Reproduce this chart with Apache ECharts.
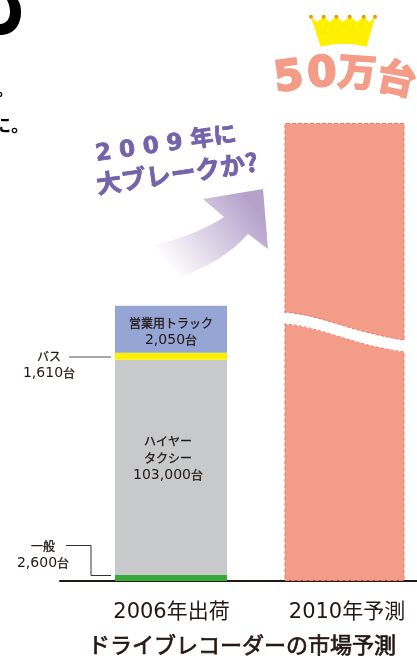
<!DOCTYPE html>
<html lang="ja">

<head>
    <meta charset="UTF-8">
    <title>ドライブレコーダーの市場予測</title>
    <style>
        html, body { margin: 0; padding: 0; background: #fff; }
    </style>
</head>

<body>
    <div id="main" style="width: 417px; height: 656px;"></div>

    <script src="https://cdn.jsdelivr.net/npm/echarts@6/dist/echarts.min.js"></script>
    <script>
        var chartTitle = 'ドライブレコーダーの市場予測';
        var categories = ['2006年出荷', '2010年予測'];

        // 2006 segments, bottom to top
        var segmentNames = ['一般', 'ハイヤー\nタクシー', 'バス', '営業用トラック'];
        var segmentUnits = [2600, 103000, 1610, 2050];
        // the source picture is not to scale: heights as drawn, read against the 500,000 bar
        var segmentDrawn = [6500, 235000, 7600, 51300];
        var segmentColors = ['#36a938', '#c8c9ca', '#fff000', '#95a6d4'];

        var forecastUnits = [500000];
        var forecastLabel = ['5', '0', '万', '台'];

        var CJK = '"Noto Sans CJK JP", sans-serif';
        var NUM = '"DejaVu Sans", "Noto Sans CJK JP", sans-serif';

        function deg(d) { return d * Math.PI / 180; }

        // graphic component has no plain path type, so register the svg paths as shapes
        function pathShape(name, d) {
            echarts.graphic.registerShape(name, echarts.graphic.extendPath(d, {}));
        }
        pathShape('cutRing', 'M0 35C14 35 21 25 21 12C21 7 20 3 18 0L7 0C9 4 10 8 10 12C10 19 6 24 0 24Z');
        pathShape('breakBand', 'M280 312C320 314 350 332 409 341L409 353C350 345 320 326 280 324Z');
        pathShape('breakTop', 'M284 312C320 314 350 332 405 340');
        pathShape('breakBottom', 'M284 324C320 326 350 345 405 352');
        pathShape('trendArrow', 'M153 245C180 239 204 230 224 217L203 199L263 189L268 249L248 234C230 254 206 268 180 277Z');
        pathShape('crown', 'M311 17L317 22L323.7 16.5L330 22L336.3 16.5L343 22L349.7 16.5L357 22L363.7 16.5L369 22L375 17L366.7 46.7Q343 41 320.7 46.7Z');

        function segmentLabel(i) {
            return segmentNames[i].split('\n').map(function (t) { return '{t|' + t + '}'; }).join('\n') +
                '\n{n|' + segmentUnits[i].toLocaleString('en-US') + '}{t|台}';
        }

        var labelRich = {
            t: { fontFamily: CJK, fontSize: 12, color: '#231815', lineHeight: 17, textBorderColor: '#231815', textBorderWidth: 0.3 },
            n: { fontFamily: NUM, fontSize: 14, color: '#231815', lineHeight: 17 }
        };

        var labelPlace = [
            { position: 'left', distance: 72, offset: [0, -23] },
            { position: 'inside', offset: [-3, -9] },
            { position: 'left', distance: 66, offset: [0, 9] },
            { position: 'inside', offset: [0, 3] }
        ];

        var series = segmentDrawn.map(function (v, i) {
            return {
                name: segmentNames[i],
                type: 'bar',
                stack: 'shipped',
                xAxisIndex: 0,
                yAxisIndex: 0,
                barWidth: 112,
                data: [v],
                itemStyle: { color: segmentColors[i] },
                label: Object.assign({
                    show: true,
                    formatter: segmentLabel(i),
                    rich: labelRich,
                    align: 'center'
                }, labelPlace[i])
            };
        });

        series.push({
            name: categories[1],
            type: 'bar',
            xAxisIndex: 1,
            yAxisIndex: 1,
            barWidth: 120,
            data: forecastUnits,
            itemStyle: { color: '#f39c87', borderColor: '#f0796a', borderWidth: 1, borderType: 'dashed' }
        });

        function axisX(i, name, nudge) {
            return {
                gridIndex: i,
                type: 'category',
                data: [name],
                axisTick: { show: false },
                axisLine: { lineStyle: { color: '#231815', width: 2 } },
                axisLabel: { fontFamily: NUM, fontSize: 21, color: '#231815', margin: 21, padding: [0, 0, 0, nudge] }
            };
        }

        function axisY(i) {
            return { gridIndex: i, type: 'value', min: 0, max: forecastUnits[0], show: false };
        }

        // annotations around the bars
        var crownDots = [311, 323.7, 336.3, 349.7, 363.7, 375];
        var headTilt = [8, 3, -4, -12];
        var headPos = [[289, 79], [322, 75], [357, 76], [396, 82]];

        var graphics = [
            // cropped pieces of the article text at the left edge
            { type: 'cutRing', z: 20, style: { fill: '#000' } },
            { type: 'text', z: 20, x: -4, y: 80, style: { text: '。', font: 'bold 18px ' + CJK, fill: '#000' } },
            { type: 'text', z: 20, x: -7, y: 116, style: { text: 'に。', font: 'bold 18px ' + CJK, fill: '#000' } },

            // break in the forecast bar
            { type: 'breakBand', z: 20, style: { fill: '#fff' } },
            { type: 'breakTop', z: 21, style: { fill: null, stroke: '#f0796a', lineWidth: 1, lineDash: [3, 2] } },
            { type: 'breakBottom', z: 21, style: { fill: null, stroke: '#f0796a', lineWidth: 1, lineDash: [3, 2] } },

            // leader lines
            { type: 'polyline', z: 20, shape: { points: [[69, 357], [111, 357]] }, style: { fill: null, stroke: '#555', lineWidth: 1 } },
            { type: 'polyline', z: 20, shape: { points: [[66, 545.5], [91, 545.5], [91, 575.5], [111, 575.5]] }, style: { fill: null, stroke: '#333', lineWidth: 1 } },

            // arrow
            {
                type: 'trendArrow', z: 5,
                style: {
                    fill: new echarts.graphic.LinearGradient(0, 1, 1, 0, [
                        { offset: 0.12, color: '#ffffff' },
                        { offset: 0.85, color: '#b5a2cb' }
                    ])
                }
            },

            // arrow caption
            { type: 'text', z: 20, x: 166, y: 145, rotation: deg(8), style: { text: '2 0 0 9 年に', font: 'bold 23px ' + NUM, fill: '#7363ab', stroke: '#7363ab', lineWidth: 0.8, textAlign: 'center', textVerticalAlign: 'middle' } },
            { type: 'text', z: 20, x: 177, y: 173, rotation: deg(8), style: { text: '大ブレークか?', font: 'bold 25px ' + CJK, fill: '#7363ab', stroke: '#7363ab', lineWidth: 0.8, textAlign: 'center', textVerticalAlign: 'middle' } },

            // crown
            { type: 'crown', z: 20, style: { fill: '#fff000' } }
        ];

        crownDots.forEach(function (x) {
            graphics.push({ type: 'circle', z: 21, shape: { cx: x, cy: 16.7, r: 2 }, style: { fill: '#f39800' } });
        });

        forecastLabel.forEach(function (ch, i) {
            graphics.push({
                type: 'text', z: 20, x: headPos[i][0], y: headPos[i][1], rotation: deg(headTilt[i]),
                style: {
                    text: ch,
                    font: 'bold ' + (i < 2 ? 42 : 38) + 'px ' + NUM,
                    fill: '#f39c87', stroke: '#f39c87', lineWidth: 2,
                    textAlign: 'center', textVerticalAlign: 'middle'
                }
            });
        });

        window.onload = function () {
            var myChart = echarts.init(document.getElementById('main'), null, { renderer: 'canvas' });
            var option = {
                animation: false,
                backgroundColor: '#fff',
                title: {
                    text: chartTitle,
                    left: 83,
                    top: 629,
                    textStyle: { fontFamily: CJK, fontSize: 22, fontWeight: 'normal', color: '#231815', textBorderColor: '#231815', textBorderWidth: 0.7 }
                },
                grid: [
                    { left: 60, width: 222, top: 123, height: 458 },
                    { left: 272, width: 145, top: 123, height: 458 }
                ],
                xAxis: [axisX(0, categories[0], 1), axisX(1, categories[1], 5)],
                yAxis: [axisY(0), axisY(1)],
                series: series,
                graphic: graphics
            };
            myChart.setOption(option);
        }
    </script>
</body>

</html>
